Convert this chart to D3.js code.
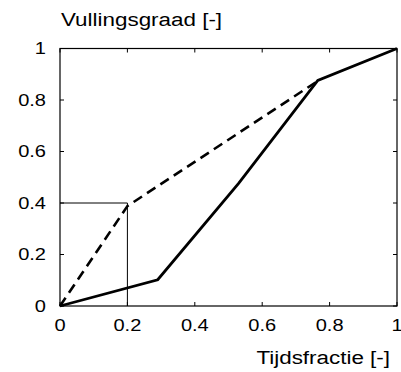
<!DOCTYPE html>
<html><head><meta charset="utf-8">
<script src="https://cdn.jsdelivr.net/npm/d3@7"></script>
<style>body{margin:0;background:#fff}svg{display:block}text{font-family:"Liberation Sans",Arial,sans-serif;fill:#000}</style>
</head><body>
<script>
const xTicks = [0, 0.2, 0.4, 0.6, 0.8, 1];
const yTicks = [0, 0.2, 0.4, 0.6, 0.8, 1];
const xTickLabels = ["0", "0.2", "0.4", "0.6", "0.8", "1"];
const yTickLabels = ["0", "0.2", "0.4", "0.6", "0.8", "1"];
const solidX = [0, 0.29, 0.53, 0.765, 1];
const solidY = [0, 0.102, 0.476, 0.876, 1];
const dashedX = [0, 0.2, 0.758];
const dashedY = [0, 0.388, 0.868];
const guideX = [0, 0.2, 0.2];
const guideY = [0.4, 0.4, 0];
const xLabel = "Tijdsfractie [-]";
const yLabel = "Vullingsgraad [-]";

const W = 401, H = 372, SX = 1.18;
const svg = d3.select("body").append("svg").attr("width", W).attr("height", H);
const x = d3.scaleLinear().domain([0, 1]).range([60, 397]);
const y = d3.scaleLinear().domain([0, 1]).range([306, 48.5]);

const zip = (a, b) => a.map((v, i) => [v, b[i]]);
const line = d3.line().x(d => x(d[0])).y(d => y(d[1]));

// box
svg.append("rect").attr("x", x(0)).attr("y", y(1)).attr("width", x(1) - x(0)).attr("height", y(0) - y(1))
  .attr("fill", "none").attr("stroke", "#000").attr("stroke-width", 1.2);

// inward ticks on all sides
const tl = 4;
const g = svg.append("g").attr("stroke", "#000").attr("stroke-width", 1);
xTicks.forEach(t => {
  g.append("line").attr("x1", x(t)).attr("x2", x(t)).attr("y1", y(0)).attr("y2", y(0) - tl);
  g.append("line").attr("x1", x(t)).attr("x2", x(t)).attr("y1", y(1)).attr("y2", y(1) + tl);
});
yTicks.forEach(t => {
  g.append("line").attr("y1", y(t)).attr("y2", y(t)).attr("x1", x(0)).attr("x2", x(0) + tl);
  g.append("line").attr("y1", y(t)).attr("y2", y(t)).attr("x1", x(1)).attr("x2", x(1) - tl);
});

function stext(tx, ty, str, size, anchor) {
  svg.append("text").attr("transform", `translate(${tx},${ty}) scale(${SX},1)`)
    .attr("text-anchor", anchor).attr("font-size", size).text(str);
}
xTicks.forEach((t, i) => stext(x(t), 331, xTickLabels[i], 17, "middle"));
yTicks.forEach((t, i) => stext(46, y(t) + 5.5, yTickLabels[i], 17, "end"));
stext(61, 26, yLabel, 19, "start");
stext(390, 364, xLabel, 19, "end");

// guide lines
svg.append("path").attr("d", line(zip(guideX, guideY))).attr("fill", "none").attr("stroke", "#000").attr("stroke-width", 1);
// dashed
svg.append("path").attr("d", line(zip(dashedX, dashedY))).attr("fill", "none").attr("stroke", "#000")
  .attr("stroke-width", 2.6).attr("stroke-dasharray", "10,6");
// solid
svg.append("path").attr("d", line(zip(solidX, solidY))).attr("fill", "none").attr("stroke", "#000")
  .attr("stroke-width", 2.8).attr("stroke-linejoin", "miter");
</script>
</body></html>
